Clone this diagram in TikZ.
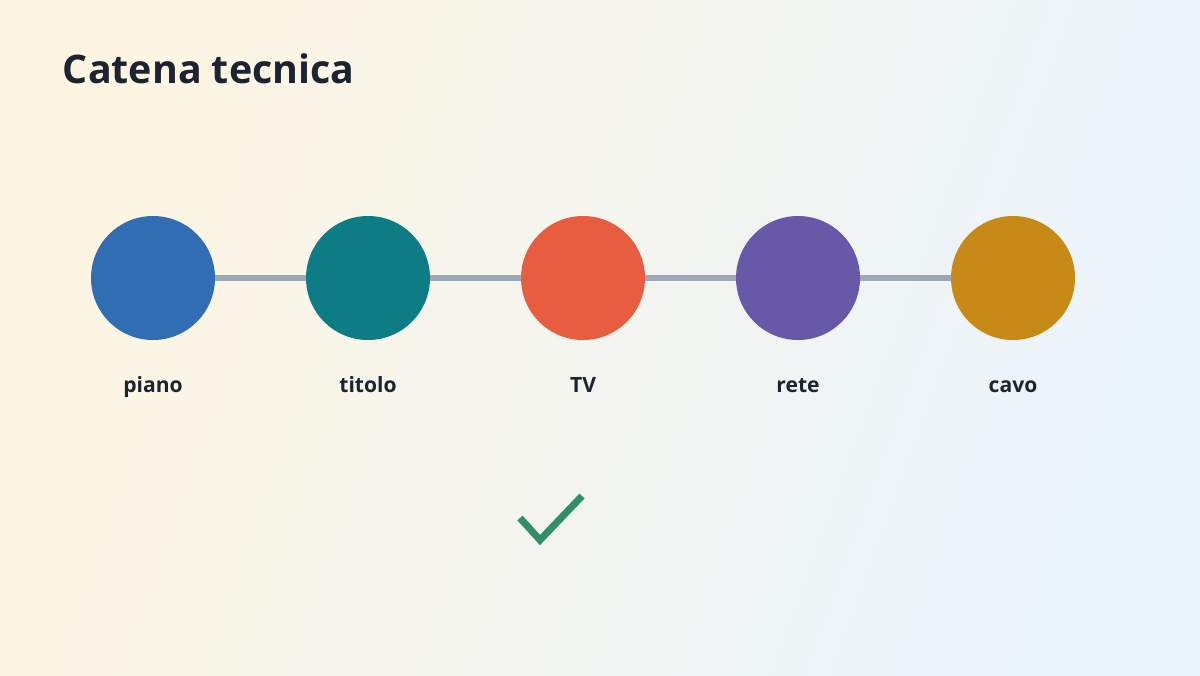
\documentclass[tikz,border=0pt]{standalone}
\usepackage{fontspec}
\setmainfont{Open Sans}
\usetikzlibrary{positioning}
\definecolor{bgcream}{HTML}{FDF5E2}
\definecolor{bgblue}{HTML}{EAF4FC}
\definecolor{inkdark}{HTML}{1B2430}
\definecolor{linkgray}{HTML}{9AA8B8}
\definecolor{checkgreen}{HTML}{2E8F68}
\definecolor{cpiano}{HTML}{306DB3}
\definecolor{ctitolo}{HTML}{0E7C84}
\definecolor{ctv}{HTML}{E85C3F}
\definecolor{crete}{HTML}{6759A8}
\definecolor{ccavo}{HTML}{C88A16}
\tikzset{
  stage/.style={circle, minimum size=3.1cm, inner sep=0pt},
  stagelabel/.style={anchor=base, font=\bfseries\fontsize{15}{18}\selectfont, text=inkdark},
  link/.style={draw=linkgray, line width=4pt},
}
\begin{document}
\begin{tikzpicture}
        \shade[left color=bgcream, right color=bgblue, shading angle=70] (0,0) rectangle (30,-16.875);
        \useasboundingbox (0,0) rectangle (30,-16.875);
        \node[anchor=west, font=\bfseries\fontsize{28}{34}\selectfont, text=inkdark] (title) at (1.45,-1.72) {Catena tecnica};
        % stages of the chain
        \foreach \name/\col/\txt [count=\i] in {piano/cpiano/piano, titolo/ctitolo/titolo, tv/ctv/TV, rete/crete/rete, cavo/ccavo/cavo}
          {
            \node[stage, fill=\col] (\name) at ({3.825+5.375*(\i-1)},-6.95) {};
            \node[stagelabel] (\name-lbl) at ({3.825+5.375*(\i-1)},-9.8) {\txt};
          }
        \foreach \a/\b in {piano/titolo, titolo/tv, tv/rete, rete/cavo}
          \draw[link] (\a) -- (\b);
        % check mark
        \coordinate (ck1) at (13.0,-12.95);
        \coordinate (ck2) at (13.5,-13.5);
        \coordinate (ck3) at (14.55,-12.4);
        \draw[checkgreen, line width=5pt] (ck1) -- (ck2) -- (ck3);
    \end{tikzpicture}
\end{document}
